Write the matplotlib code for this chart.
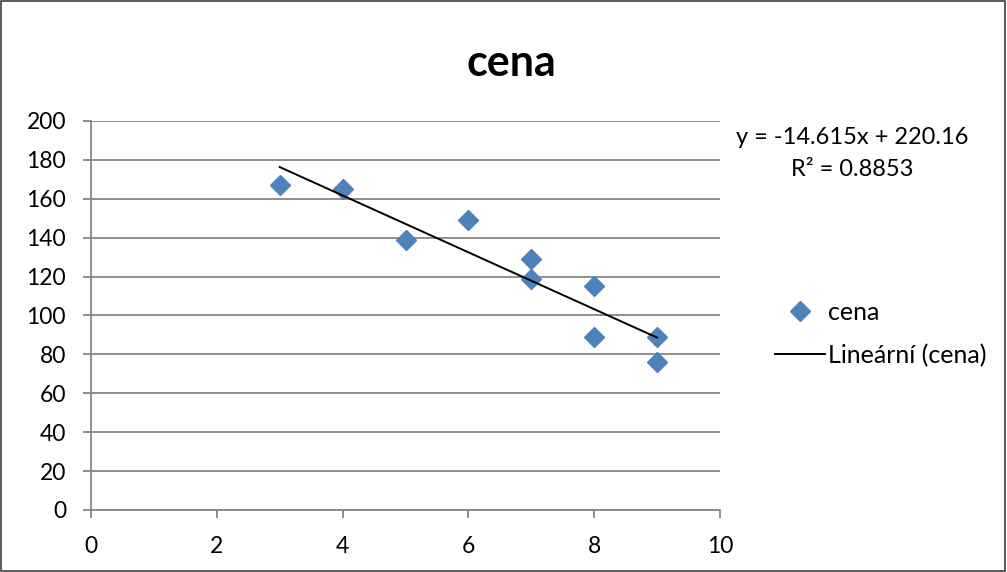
import matplotlib.pyplot as plt
from matplotlib.patches import Rectangle

plt.rcParams['font.family'] = ['Lato', 'DejaVu Sans']

# data
pocet = [3, 4, 5, 6, 7, 7, 8, 8, 9, 9]
cena = [167, 165, 139, 149, 129, 119, 115, 89, 89, 76]
slope = -14.615
intercept = 220.16
r2 = 0.8853

fig = plt.figure(figsize=(10.07, 5.72), dpi=100)
ax = fig.add_axes([0.0904, 0.1084, 0.6246, 0.6801])

ax.plot(pocet, cena, linestyle='none', marker='D', markersize=10.5,
        color='#4F81BD', markeredgecolor='#4F81BD', label='cena', zorder=3)

xs = [min(pocet), max(pocet)]
ys = [slope * x + intercept for x in xs]
ax.plot(xs, ys, color='black', linewidth=1.4, label='Lineární (cena)', zorder=4)

ax.set_xlim(0, 10)
ax.set_ylim(0, 200)
ax.set_xticks(range(0, 11, 2))
ax.set_yticks(range(0, 201, 20))
ax.yaxis.grid(True, color='#868686', linewidth=1.3)
ax.set_axisbelow(True)
for side in ('top', 'right'):
    ax.spines[side].set_visible(False)
for side in ('left', 'bottom'):
    ax.spines[side].set_color('#868686')
    ax.spines[side].set_linewidth(1.3)
ax.tick_params(axis='both', colors='#868686', labelcolor='black',
               labelsize=16.5, length=6, width=1.3)
ax.tick_params(axis='x', pad=13)
ax.tick_params(axis='y', pad=12)

fig.text(0.508, 0.89, 'cena', ha='center', va='center',
         fontsize=31, fontweight='bold')

fig.text(0.846, 0.759, f'y = {slope}x + {intercept}', ha='center',
         va='center', fontsize=17)
fig.text(0.846, 0.704, f'R² = {r2}', ha='center', va='center', fontsize=17)

fig.legend(loc='center left', bbox_to_anchor=(0.7696, 0.416), frameon=False,
           fontsize=18, handlelength=2.0, handletextpad=0.12,
           labelspacing=0.8, borderpad=0, borderaxespad=0)

fig.patches.append(Rectangle((0.001, 0.001), 0.997, 0.997,
                             transform=fig.transFigure, fill=False,
                             edgecolor='#404040', linewidth=1.2))

fig.savefig('out.png', dpi=100)
